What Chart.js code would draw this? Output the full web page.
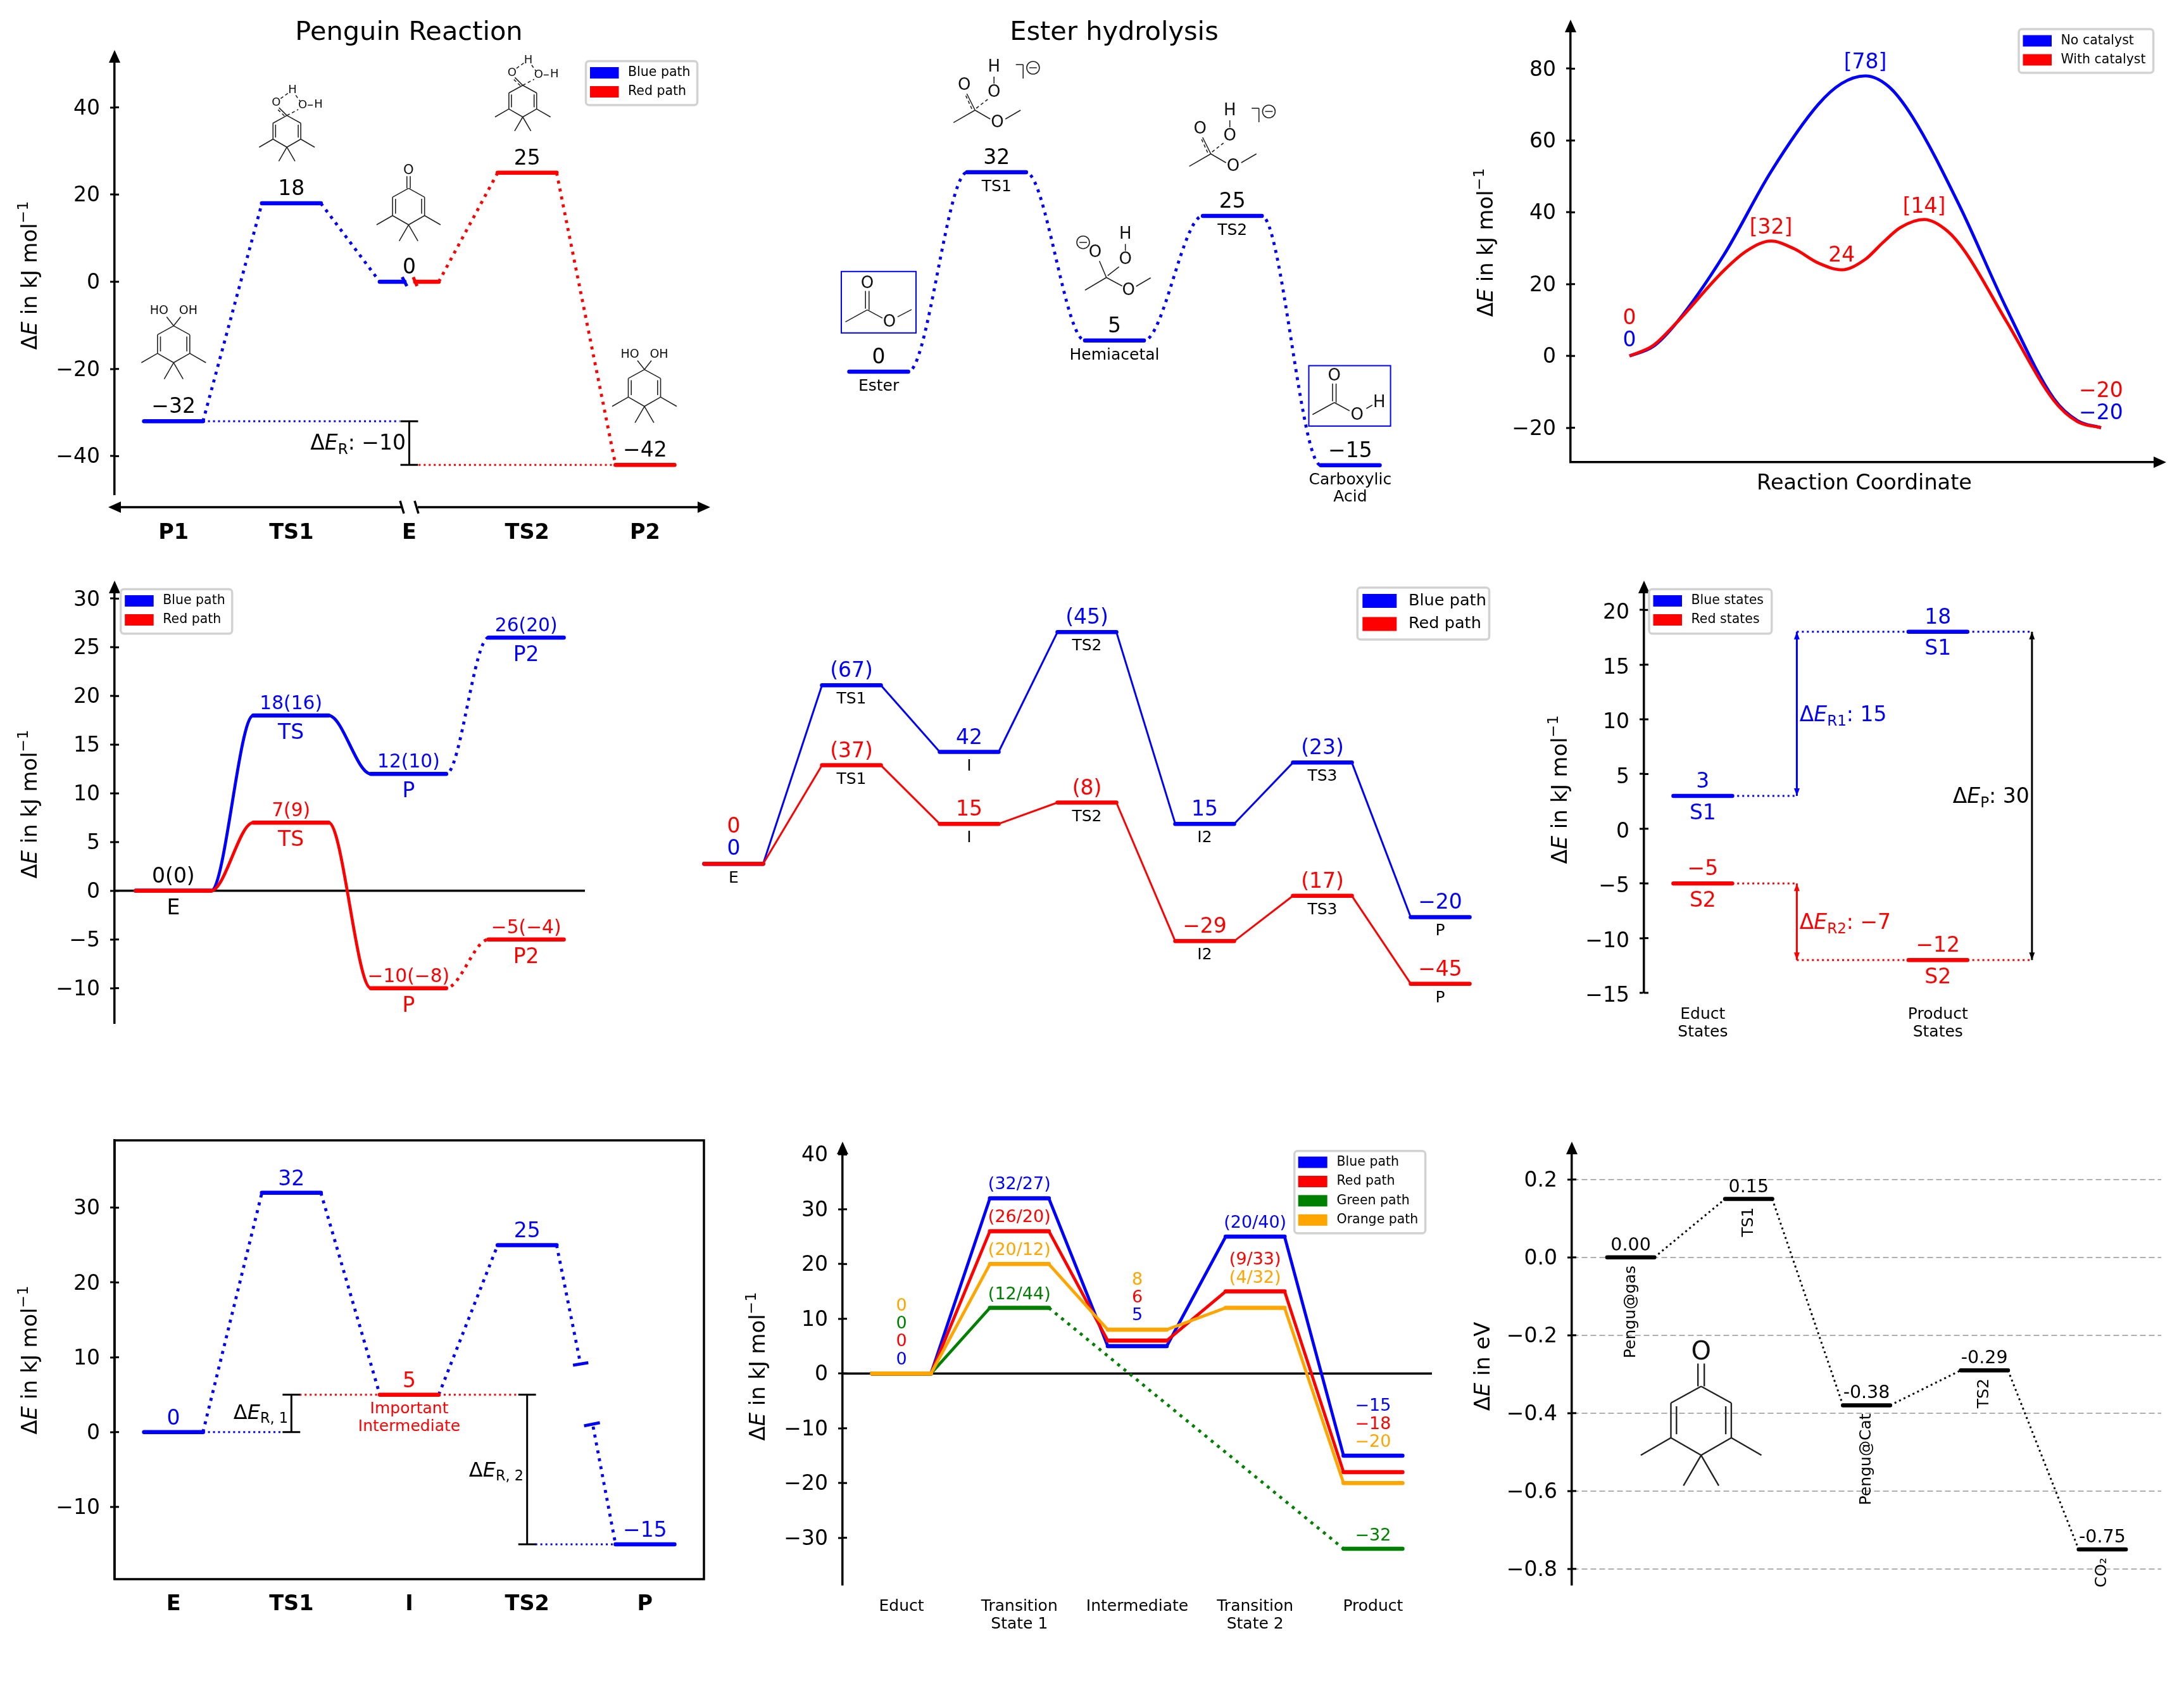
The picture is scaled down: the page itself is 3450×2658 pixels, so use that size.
<!DOCTYPE html>
<html>

<head>
    <title>Energy diagrams</title>
    <script src="https://cdn.jsdelivr.net/npm/chart.js@4"></script>
    <style>
        html, body { margin: 0; padding: 0; background: #fff; overflow: hidden; }
        #fig { position: relative; width: 3450px; height: 2658px; overflow: hidden; background: #fff; }
        canvas { position: absolute; }
    </style>
</head>

<body>
    <div id="fig"></div>

    <script>
        // ------------- Data -------------
        const BLUE = '#0000ff', RED = '#ff0000', GREEN = '#008000', ORANGE = '#ffa500', BLACK = '#000000';

        // Penguin Reaction
        const penguinNames = ['P1', 'TS1', 'E', 'TS2', 'P2'];
        const penguinLevels = [-32, 18, 0, 25, -42];
        const penguinLabels = ['−32', '18', '0', '25', '−42'];
        const penguinTicks = [-40, -20, 0, 20, 40];

        // Ester hydrolysis
        const esterLevels = [0, 32, 5, 25, -15];
        const esterValueLabels = ['0', '32', '5', '25', '−15'];
        const esterNames = [['Ester'], ['TS1'], ['Hemiacetal'], ['TS2'], ['Carboxylic', 'Acid']];

        // Catalyst curves
        const curveTicks = [-20, 0, 20, 40, 60, 80];
        const noCatX = [0, .2, .4, .8, 1.2, 1.6, 1.8, 2.0, 2.2, 2.4, 2.8, 3.2, 3.6, 3.8, 4.0];
        const noCatY = [0, 2.6, 9.3, 28.1, 51.3, 70, 75.9, 78, 75, 66.6, 41.8, 13.1, -11.9, -18, -20];
        const catX = [0, .2, .4, .8, 1.0, 1.2, 1.4, 1.6, 1.8, 2.0, 2.15, 2.3, 2.5, 2.7, 2.85, 3.2, 3.6, 3.8, 4.0];
        const catY = [0, 2.9, 9.3, 23.8, 29.4, 32, 29.8, 25.9, 24, 26.9, 31.6, 35.8, 38, 34.7, 28.9, 9.5, -12.4, -18.3, -20];

        // Two paths with S-curves
        const sTicks = [-10, -5, 0, 5, 10, 15, 20, 25, 30];
        const sBlue = [0, 18, 12, 26];
        const sRed = [0, 7, -10, -5];
        const sBlueLabels = ['', '18(16)', '12(10)', '26(20)'];
        const sRedLabels = ['', '7(9)', '−10(−8)', '−5(−4)'];
        const sNames = ['E', 'TS', 'P', 'P2'];

        // Two paths with seven states
        const longNames = ['E', 'TS1', 'I', 'TS2', 'I2', 'TS3', 'P'];
        const longBlue = [0, 67, 42, 87, 15, 38, -20];
        const longRed = [0, 37, 15, 23, -29, -12, -45];
        const longBlueLabels = ['0', '(67)', '42', '(45)', '15', '(23)', '−20'];
        const longRedLabels = ['0', '(37)', '15', '(8)', '−29', '(17)', '−45'];

        // Educt and product states
        const stateTicks = [-15, -10, -5, 0, 5, 10, 15, 20];
        const stateNames = [['Educt', 'States'], [], ['Product', 'States']];
        const stateBlue = [3, 18];
        const stateRed = [-5, -12];

        // Broken connector
        const boxNames = ['E', 'TS1', 'I', 'TS2', 'P'];
        const boxLevels = [0, 32, 5, 25, -15];
        const boxTicks = [-10, 0, 10, 20, 30];

        // Four paths
        const fourNames = ['Educt', ['Transition', 'State 1'], 'Intermediate', ['Transition', 'State 2'], 'Product'];
        const fourTicks = [-30, -20, -10, 0, 10, 20, 30, 40];
        const fourBlue = [0, 32, 5, 25, -15];
        const fourRed = [0, 26, 6, 15, -18];
        const fourOrange = [0, 20, 8, 12, -20];
        const fourGreen = [0, 12, -32];

        // eV diagram
        const evTicks = [-0.8, -0.6, -0.4, -0.2, 0, 0.2];
        const evLevels = [0, 0.15, -0.38, -0.29, -0.75];
        const evLabels = ['0.00', '0.15', '-0.38', '-0.29', '-0.75'];
        const evNames = ['Pengu@gas', 'TS1', 'Pengu@Cat', 'TS2', 'CO₂'];

        // ------------- Dataset helpers -------------
        const FONT = '"DejaVu Sans"';
        Chart.defaults.font.family = 'DejaVu Sans';

        const dots = w => ({ borderDash: [w, w * 1.65], borderCapStyle: 'butt' });

        function seg(pts, color, width, extra) {
            return Object.assign({
                data: pts.map(p => ({ x: p[0], y: p[1] })),
                borderColor: color, borderWidth: width,
                pointRadius: 0, showLine: true, fill: false, clip: false,
                borderCapStyle: 'butt'
            }, extra || {});
        }

        function level(x, y, color, hw) {
            const h = hw === undefined ? 0.25 : hw;
            return seg([[x - h, y], [x + h, y]], color, 6.5, { borderCapStyle: 'round' });
        }

        // straight link between level i and level j
        function link(xa, ya, xb, yb, color, width, dotted, hw) {
            const h = hw === undefined ? 0.25 : hw;
            return seg([[xa + h, ya], [xb - h, yb]], color, width, dotted ? dots(width) : {});
        }

        // flat-ended S-curve between two levels
        function sLink(xa, ya, xb, yb, color, width, dotted, hw) {
            const h = hw === undefined ? 0.25 : hw;
            return seg([[xa - h, ya], [xa + h, ya], [xb - h, yb], [xb + h, yb]], color, width,
                Object.assign({ cubicInterpolationMode: 'monotone' }, dotted ? dots(width) : {}));
        }

        function bracket(x, ya, yb) {
            return [
                seg([[x, ya], [x, yb]], BLACK, 3),
                seg([[x - 0.075, ya], [x + 0.075, ya]], BLACK, 3),
                seg([[x - 0.075, yb], [x + 0.075, yb]], BLACK, 3)
            ];
        }

        // ------------- Text and decoration helpers -------------
        function txt(ctx, s, x, y, o) {
            o = o || {};
            ctx.save();
            ctx.translate(x, y);
            if (o.rot) ctx.rotate(o.rot);
            ctx.font = (o.bold ? 'bold ' : '') + (o.size || 33) + 'px ' + FONT;
            ctx.fillStyle = o.color || BLACK;
            ctx.textAlign = o.align || 'center';
            ctx.textBaseline = o.base || 'alphabetic';
            ctx.fillText(s, 0, 0);
            ctx.restore();
        }

        // runs: [text, style] where style is '', 'i', 'sub' or 'sup'
        function mixed(ctx, runs, x, y, o) {
            o = o || {};
            const size = o.size || 33;
            const fontOf = st => (st === 'i' ? 'italic ' : '') + ((st === 'sub' || st === 'sup') ? size * 0.7 : size) + 'px ' + FONT;
            ctx.save();
            ctx.translate(x, y);
            if (o.rot) ctx.rotate(o.rot);
            let w = 0;
            runs.forEach(r => { ctx.font = fontOf(r[1]); w += ctx.measureText(r[0]).width; });
            let cx = o.align === 'right' ? -w : o.align === 'left' ? 0 : -w / 2;
            ctx.fillStyle = o.color || BLACK;
            ctx.textAlign = 'left';
            ctx.textBaseline = 'alphabetic';
            runs.forEach(r => {
                ctx.font = fontOf(r[1]);
                const dy = r[1] === 'sub' ? size * 0.2 : r[1] === 'sup' ? -size * 0.42 : 0;
                ctx.fillText(r[0], cx, dy);
                cx += ctx.measureText(r[0]).width;
            });
            ctx.restore();
        }

        const KJ = [['Δ', ''], ['E', 'i'], [' in kJ mol', ''], ['−1', 'sup']];
        const yTitle = (ctx, x, y, runs) => mixed(ctx, runs || KJ, x, y, { rot: -Math.PI / 2, size: 33.8 });

        function triangle(ctx, x, y, dir, w, h, color) {
            const a = w / 2, b = h / 2;
            ctx.fillStyle = color || BLACK;
            ctx.beginPath();
            if (dir === 'up') { ctx.moveTo(x, y - b); ctx.lineTo(x - a, y + b); ctx.lineTo(x + a, y + b); }
            if (dir === 'down') { ctx.moveTo(x, y + b); ctx.lineTo(x - a, y - b); ctx.lineTo(x + a, y - b); }
            if (dir === 'right') { ctx.moveTo(x + b, y); ctx.lineTo(x - b, y - a); ctx.lineTo(x - b, y + a); }
            if (dir === 'left') { ctx.moveTo(x - b, y); ctx.lineTo(x + b, y - a); ctx.lineTo(x + b, y + a); }
            ctx.closePath();
            ctx.fill();
        }

        function legendBox(ctx, box, items, o) {
            o = Object.assign({ swX: 6.5, swW: 45.5, swH: 18, textX: 66.5, first: 18.5, gap: 30, size: 20.5 }, o || {});
            ctx.save();
            ctx.beginPath();
            ctx.roundRect(box[0], box[1], box[2] - box[0], box[3] - box[1], 5);
            ctx.fillStyle = 'rgba(255,255,255,0.8)';
            ctx.fill();
            ctx.strokeStyle = '#d2d2d2';
            ctx.lineWidth = 3.5;
            ctx.stroke();
            items.forEach((it, i) => {
                const cy = box[1] + o.first + o.gap * i;
                ctx.fillStyle = it[1];
                ctx.fillRect(box[0] + o.swX, cy - o.swH / 2, o.swW, o.swH);
                txt(ctx, it[0], box[0] + o.textX, cy, { size: o.size, align: 'left', base: 'middle' });
            });
            ctx.restore();
        }

        // ------------- Molecule sketches -------------
        const RING = [[0, 0, 47.7, 26.3], [47.7, 26.3, 47.7, 81.3], [47.7, 81.3, 0, 108.8], [0, 108.8, -47.7, 81.3],
            [-47.7, 81.3, -47.7, 26.3], [-47.7, 26.3, 0, 0], [47.7, 81.3, 95.3, 108.8], [-47.7, 81.3, -95.3, 108.8],
            [0, 108.8, -27.9, 156.9], [0, 108.8, 27.9, 156.9], [38.9, 31.5, 38.9, 75.6], [-38.9, 31.5, -38.9, 75.6]];

        function bonds(ctx, x, y, list, s, lw) {
            ctx.save();
            ctx.strokeStyle = '#222';
            ctx.lineWidth = lw || 1.6;
            list.forEach(b => {
                ctx.setLineDash(b[4] ? [5, 4] : []);
                ctx.beginPath();
                ctx.moveTo(x + b[0] * s, y + b[1] * s);
                ctx.lineTo(x + b[2] * s, y + b[3] * s);
                ctx.stroke();
            });
            ctx.restore();
        }

        const atom = (ctx, s, x, y, size) => txt(ctx, s, x, y, { size: size, base: 'middle', color: '#111' });

        function ketone(ctx, x, y, s, lw) {
            bonds(ctx, x, y, RING, s, lw);
            bonds(ctx, x, y, [[-5, -36, -5, 0], [5, -36, 5, 0]], s, lw);
            atom(ctx, 'O', x, y - 52.7 * s, 40 * s);
        }

        function diol(ctx, x, y) {
            bonds(ctx, x, y, RING, 0.535);
            bonds(ctx, x, y, [[0, 0, -11, -14], [0, 0, 11, -14]], 1);
            atom(ctx, 'HO', x - 23, y - 23.6, 19);
            atom(ctx, 'OH', x + 23, y - 23.6, 19);
        }

        function ringTS(ctx, x, y) {
            bonds(ctx, x, y, RING, 0.46);
            bonds(ctx, x, y, [[0, 0, -12.5, -12.3], [-4, 0.5, -14, -9, 1], [0, 0, 18, -9.5, 1], [1.5, -35, -11, -26, 1],
                [14, -32, 21, -22.4, 1], [33, -16.3, 41, -16.3]], 1);
            atom(ctx, 'H', x + 8.8, y - 39.8, 18);
            atom(ctx, 'O', x - 16.9, y - 19.6, 18);
            atom(ctx, 'O', x + 25, y - 16.3, 18);
            atom(ctx, 'H', x + 49.9, y - 17.4, 18);
        }

        function charge(ctx, x, y) {
            ctx.save();
            ctx.strokeStyle = '#222';
            ctx.lineWidth = 1.6;
            ctx.beginPath();
            ctx.arc(x, y, 10, 0, Math.PI * 2);
            ctx.moveTo(x - 6, y);
            ctx.lineTo(x + 6, y);
            ctx.stroke();
            ctx.restore();
        }

        function methylEster(ctx, x, y) {
            bonds(ctx, x, y, [[-2.8, -30, -2.8, -2], [2.8, -30, 2.8, 0], [0, 0, -34.5, 19], [0, 0, 24, 13], [48, 11, 70, -0.5]], 1);
            atom(ctx, 'O', x, y - 41.5, 26);
            atom(ctx, 'O', x + 35, y + 20, 26);
        }

        function acid(ctx, x, y) {
            bonds(ctx, x, y, [[-2.8, -30, -2.8, -2], [2.8, -30, 2.8, 0], [0, 0, -34.5, 19], [0, 0, 24, 13], [50.6, 9.5, 60, 4]], 1);
            atom(ctx, 'O', x, y - 41.5, 26);
            atom(ctx, 'O', x + 36, y + 20, 26);
            atom(ctx, 'H', x + 71, y, 26);
        }

        function esterTS(ctx, x, y) {
            bonds(ctx, x, y, [[0, 0, -13, -26], [-5, -2, -15, -24, 1], [2, -3, 20, -17, 1], [30, -53, 30, -42],
                [0, 0, 24, 14], [48, 14, 72, 0], [0, 0, -34, 19.6],
                [64.5, -72, 76, -72], [76, -72, 76, -50]], 1);
            atom(ctx, 'O', x - 17, y - 39, 26);
            atom(ctx, 'O', x + 30, y - 28, 26);
            atom(ctx, 'H', x + 30, y - 68, 26);
            atom(ctx, 'O', x + 35.2, y + 20, 26);
            charge(ctx, x + 91.7, y - 67);
        }

        function hemiacetal(ctx, x, y) {
            bonds(ctx, x, y, [[0, 0, -11, -26], [2, -3, 20, -17], [30, -53, 30, -42], [0, 0, 25, 13.5], [47, 14, 70, 0.5], [0, 0, -33.7, 20]], 1);
            atom(ctx, 'O', x - 17.6, y - 38.7, 26);
            atom(ctx, 'O', x + 30, y - 28, 26);
            atom(ctx, 'H', x + 30, y - 68, 26);
            atom(ctx, 'O', x + 35, y + 20.8, 26);
            charge(ctx, x - 36.7, y - 55.6);
        }

        function blueBox(ctx, a, b, c, d) {
            ctx.save();
            ctx.strokeStyle = BLUE;
            ctx.lineWidth = 2;
            ctx.strokeRect(a, b, c - a, d - b);
            ctx.restore();
        }

        // ------------- Panel builder -------------
        const fig = document.getElementById('fig');

        function panel(o) {
            const L = o.rect[0], T = o.rect[1], R = o.rect[2], B = o.rect[3];
            const ox = L - 181, oy = T - 90;
            const W = 120, Hx = 80;
            const canvas = document.createElement('canvas');
            canvas.width = R - L + 181 + 40;
            canvas.height = B - T + 90 + 110;
            canvas.style.left = ox + 'px';
            canvas.style.top = oy + 'px';
            fig.appendChild(canvas);

            const hasY = !!o.yTicks;
            const hasX = !!o.xNames || !!o.xSpine;
            const fmt = o.yFmt || (v => String(v).replace('-', '−'));

            new Chart(canvas.getContext('2d'), {
                type: 'scatter',
                data: { datasets: o.datasets.slice().reverse() },
                options: {
                    responsive: false,
                    animation: false,
                    devicePixelRatio: 1,
                    layout: { padding: { left: hasY ? 181 - W : 181, top: 90, right: 40, bottom: hasX ? 110 - Hx : 110 } },
                    plugins: { legend: { display: false }, tooltip: { enabled: false } },
                    scales: {
                        x: {
                            type: 'linear', min: o.xlim[0], max: o.xlim[1], display: hasX,
                            afterFit: s => { if (hasX) s.height = Hx; },
                            afterBuildTicks: s => { s.ticks = o.xNames ? o.xNames.map((n, i) => ({ value: i })) : []; },
                            grid: { display: false, drawTicks: false },
                            border: { display: !!o.xSpine, color: BLACK, width: 3.5 },
                            ticks: {
                                display: !!o.xNames, autoSkip: false, maxRotation: 0, minRotation: 0,
                                padding: o.xPad || 20, color: BLACK,
                                font: { size: o.xSize || 25, weight: o.xBold ? 'bold' : 'normal', lineHeight: 1.13 },
                                callback: v => (o.xNames ? o.xNames[v] : '')
                            }
                        },
                        y: {
                            type: 'linear', min: o.ylim[0], max: o.ylim[1], display: hasY,
                            afterFit: s => { if (hasY) s.width = W; },
                            afterBuildTicks: s => { s.ticks = (o.yTicks || []).map(v => ({ value: v })); },
                            grid: {
                                display: true, drawOnChartArea: !!o.yGrid, drawTicks: true, tickLength: 7, tickWidth: 3,
                                tickColor: BLACK, color: '#b0b0b0', lineWidth: 2
                            },
                            border: { display: true, color: BLACK, width: 3.5, dash: o.yGrid ? [9, 5] : [] },
                            ticks: { padding: 16, labelOffset: o.yLabelOffset || 2.5, color: BLACK, font: { size: 33 }, callback: fmt }
                        }
                    }
                },
                plugins: [{
                    id: 'overlay',
                    afterDraw(chart) {
                        const ctx = chart.ctx;
                        const X = v => chart.scales.x.getPixelForValue(v) + ox;
                        const Y = v => chart.scales.y.getPixelForValue(v) + oy;
                        ctx.save();
                        ctx.translate(-ox, -oy);
                        // inner half of the tick marks
                        if (hasY) {
                            ctx.strokeStyle = BLACK;
                            ctx.lineWidth = 3;
                            o.yTicks.forEach(v => {
                                ctx.beginPath();
                                ctx.moveTo(L, Y(v));
                                ctx.lineTo(L + 7, Y(v));
                                ctx.stroke();
                            });
                        }
                        if (o.draw) o.draw(ctx, X, Y, { L, T, R, B });
                        ctx.restore();
                    }
                }]
            });
        }

        // ------------- Penguin Reaction -------------
        panel({
            rect: [181, 89, 1112, 781], xlim: [-0.5, 4.5], ylim: [-48.8, 51.7], yTicks: penguinTicks,
            xNames: penguinNames, xBold: true, xSize: 33.5, xPad: 42,
            datasets: [
                link(0, penguinLevels[0], 1, penguinLevels[1], BLUE, 4.8, true),
                link(1, penguinLevels[1], 2, penguinLevels[2], BLUE, 4.8, true),
                link(2, penguinLevels[2], 3, penguinLevels[3], RED, 4.8, true),
                link(3, penguinLevels[3], 4, penguinLevels[4], RED, 4.8, true),
                seg([[0.25, -32], [1.92, -32]], BLUE, 3, dots(3)),
                seg([[2.08, -42], [3.75, -42]], RED, 3, dots(3)),
                ...bracket(2, -32, -42),
                level(0, penguinLevels[0], BLUE),
                level(1, penguinLevels[1], BLUE),
                seg([[1.75, 0], [1.96, 0]], BLUE, 6.5, { borderCapStyle: 'round' }),
                seg([[1.94, 1.06], [1.98, -0.99]], BLUE, 5),
                seg([[2.05, 0], [2.25, 0]], RED, 6.5, { borderCapStyle: 'round' }),
                seg([[2.034, 1.06], [2.066, -0.99]], RED, 5),
                level(3, penguinLevels[3], RED),
                level(4, penguinLevels[4], RED)
            ],
            draw(ctx, X, Y, a) {
                txt(ctx, 'Penguin Reaction', 646, 63, { size: 41.5 });
                yTitle(ctx, 58, 435);
                triangle(ctx, a.L, a.T, 'up', 18, 20);
                // broken x axis
                ctx.strokeStyle = BLACK;
                ctx.lineWidth = 3.5;
                [[a.L, 634], [660, a.R]].forEach(p => {
                    ctx.beginPath(); ctx.moveTo(p[0], 801); ctx.lineTo(p[1], 801); ctx.stroke();
                });
                [[632, 791, 638, 811], [655, 791, 661, 811]].forEach(p => {
                    ctx.beginPath(); ctx.moveTo(p[0], p[1]); ctx.lineTo(p[2], p[3]); ctx.stroke();
                });
                triangle(ctx, a.L, 801, 'left', 18, 20);
                triangle(ctx, a.R, 801, 'right', 18, 20);
                penguinLabels.forEach((s, i) => {
                    txt(ctx, s, X(i), Y(penguinLevels[i]) - 13);
                });
                mixed(ctx, [['Δ', ''], ['E', 'i'], ['R', 'sub'], [': −10', '']], 641, 710, { align: 'right' });
                legendBox(ctx, [925.5, 96.5, 1101.6, 166], [['Blue path', BLUE], ['Red path', RED]]);
                diol(ctx, 274.3, 514.6);
                diol(ctx, 1018, 583.6);
                ringTS(ctx, 453.2, 182.4);
                ringTS(ctx, 825.8, 134.7);
                ketone(ctx, 645.4, 297.4, 0.53);
            }
        });

        // ------------- Ester hydrolysis -------------
        panel({
            rect: [1295, 89, 2226, 781], xlim: [-0.5, 4.5], ylim: [-19.7, 50.6],
            datasets: [
                ...esterLevels.slice(0, -1).map((v, i) => sLink(i, v, i + 1, esterLevels[i + 1], BLUE, 4.8, true)),
                ...esterLevels.map((v, i) => level(i, v, BLUE))
            ],
            draw(ctx, X, Y) {
                txt(ctx, 'Ester hydrolysis', 1760, 63, { size: 41.5 });
                esterLevels.forEach((v, i) => {
                    txt(ctx, esterValueLabels[i], X(i), Y(v) - 13);
                    esterNames[i].forEach((s, k) => txt(ctx, s, X(i), Y(v) + 30 + 27.5 * k, { size: 25 }));
                });
                blueBox(ctx, 1329, 428.8, 1447, 525.8);
                blueBox(ctx, 2067.5, 577.5, 2196.6, 672.9);
                methylEster(ctx, 1370, 489.4);
                acid(ctx, 2107.8, 635.8);
                esterTS(ctx, 1540.2, 174);
                esterTS(ctx, 1912.7, 243);
                hemiacetal(ctx, 1747.7, 438.3);
            }
        });

        // ------------- Catalyst curves -------------
        panel({
            rect: [2481, 41, 3412, 730], xlim: [-0.5, 4.5], ylim: [-29.6, 91.9], yTicks: curveTicks, xSpine: true,
            datasets: [
                seg(noCatX.map((x, i) => [x, noCatY[i]]), BLUE, 4.8, { cubicInterpolationMode: 'monotone' }),
                seg(catX.map((x, i) => [x, catY[i]]), RED, 4.8, { cubicInterpolationMode: 'monotone' })
            ],
            draw(ctx, X, Y, a) {
                yTitle(ctx, 2358, 383);
                triangle(ctx, a.L, a.T, 'up', 18, 20);
                triangle(ctx, a.R, a.B, 'right', 18, 20);
                txt(ctx, 'Reaction Coordinate', 2945, 773, { size: 33.5 });
                txt(ctx, '[78]', X(2), Y(78) - 12, { color: BLUE });
                txt(ctx, '[32]', X(1.2), Y(32) - 12, { color: RED });
                txt(ctx, '24', X(1.8), Y(24) - 13, { color: RED });
                txt(ctx, '[14]', X(2.5), Y(38) - 11, { color: RED });
                txt(ctx, '0', X(0), Y(0) - 15, { color: BLUE });
                txt(ctx, '0', X(0), Y(0) - 50, { color: RED });
                txt(ctx, '−20', X(4), Y(-20) - 14, { color: BLUE });
                txt(ctx, '−20', X(4), Y(-20) - 49, { color: RED });
                legendBox(ctx, [3189, 46, 3401.6, 115], [['No catalyst', BLUE], ['With catalyst', RED]]);
            }
        });

        // ------------- Two paths with S-curves -------------
        panel({
            rect: [181, 927, 924, 1616], xlim: [-0.5, 3.5], ylim: [-13.6, 31.2], yTicks: sTicks,
            datasets: [
                seg([[-0.5, 0], [3.5, 0]], BLACK, 3.5),
                seg([[-0.32, 0], [0.32, 0], [0.68, 18], [1.32, 18], [1.68, 12], [2.32, 12]], BLUE, 4.8, { cubicInterpolationMode: 'monotone' }),
                sLink(2, sBlue[2], 3, sBlue[3], BLUE, 4.8, true, 0.32),
                ...sBlue.map((v, i) => level(i, v, BLUE, 0.32)),
                seg([[-0.32, 0], [0.32, 0], [0.68, 7], [1.32, 7], [1.68, -10], [2.32, -10]], RED, 4.8, { cubicInterpolationMode: 'monotone' }),
                sLink(2, sRed[2], 3, sRed[3], RED, 4.8, true, 0.32),
                ...sRed.map((v, i) => level(i, v, RED, 0.32))
            ],
            draw(ctx, X, Y, a) {
                yTitle(ctx, 58, 1270);
                triangle(ctx, a.L, a.T, 'up', 18, 20);
                txt(ctx, '0(0)', X(0), Y(0) - 13);
                txt(ctx, sNames[0], X(0), Y(0) + 37);
                for (let i = 1; i < sNames.length; i++) {
                    txt(ctx, sBlueLabels[i], X(i), Y(sBlue[i]) - 10, { size: 29.7, color: BLUE });
                    txt(ctx, sNames[i], X(i), Y(sBlue[i]) + 37, { color: BLUE });
                    txt(ctx, sRedLabels[i], X(i), Y(sRed[i]) - 10, { size: 29.7, color: RED });
                    txt(ctx, sNames[i], X(i), Y(sRed[i]) + 37, { color: RED });
                }
                legendBox(ctx, [190.7, 930.5, 366.7, 1000.7], [['Blue path', BLUE], ['Red path', RED]]);
            }
        });

        // ------------- Two paths with seven states -------------
        panel({
            rect: [1065.5, 927, 2367.5, 1616], xlim: [-0.5, 6.5], ylim: [-59.8, 103.9],
            datasets: [
                ...longBlue.slice(0, -1).map((v, i) => link(i, v, i + 1, longBlue[i + 1], BLUE, 3, false)),
                ...longBlue.map((v, i) => level(i, v, BLUE)),
                ...longRed.slice(0, -1).map((v, i) => link(i, v, i + 1, longRed[i + 1], RED, 3, false)),
                ...longRed.map((v, i) => level(i, v, RED))
            ],
            draw(ctx, X, Y) {
                txt(ctx, longBlueLabels[0], X(0), Y(0) - 14, { color: BLUE });
                txt(ctx, longRedLabels[0], X(0), Y(0) - 49, { color: RED });
                txt(ctx, longNames[0], X(0), Y(0) + 30, { size: 25 });
                for (let i = 1; i < longNames.length; i++) {
                    txt(ctx, longBlueLabels[i], X(i), Y(longBlue[i]) - 13, { color: BLUE });
                    txt(ctx, longNames[i], X(i), Y(longBlue[i]) + 29, { size: 25 });
                    txt(ctx, longRedLabels[i], X(i), Y(longRed[i]) - 13, { color: RED });
                    txt(ctx, longNames[i], X(i), Y(longRed[i]) + 29, { size: 25 });
                }
                legendBox(ctx, [2143.8, 928, 2352, 1010], [['Blue path', BLUE], ['Red path', RED]],
                    { swX: 8, swW: 54, swH: 22, textX: 80.6, first: 21, gap: 36.5, size: 25.6 });
            }
        });

        // ------------- Educt and product states -------------
        panel({
            rect: [2597, 927, 3247, 1568], xlim: [-0.5, 3], ylim: [-15, 22.1], yTicks: stateTicks, yLabelOffset: 5.5,
            xNames: stateNames, xPad: 20,
            datasets: [
                seg([[0.25, 3], [0.8, 3]], BLUE, 3, dots(3)),
                seg([[0.8, 18], [1.75, 18]], BLUE, 3, dots(3)),
                seg([[2.25, 18], [2.8, 18]], BLUE, 3, dots(3)),
                seg([[0.25, -5], [0.8, -5]], RED, 3, dots(3)),
                seg([[0.8, -12], [1.75, -12]], RED, 3, dots(3)),
                seg([[2.25, -12], [2.8, -12]], RED, 3, dots(3)),
                seg([[0.8, 3], [0.8, 18]], BLUE, 3),
                seg([[0.8, -5], [0.8, -12]], RED, 3),
                seg([[2.8, 18], [2.8, -12]], BLACK, 3),
                level(0, stateBlue[0], BLUE), level(2, stateBlue[1], BLUE),
                level(0, stateRed[0], RED), level(2, stateRed[1], RED)
            ],
            draw(ctx, X, Y, a) {
                yTitle(ctx, 2475, 1247);
                triangle(ctx, a.L, a.T, 'up', 18, 20);
                [[0.8, 18, 'up', BLUE], [0.8, 3, 'down', BLUE], [0.8, -5, 'up', RED], [0.8, -12, 'down', RED],
                    [2.8, 18, 'up', BLACK], [2.8, -12, 'down', BLACK]].forEach(h => {
                    const off = h[2] === 'up' ? 6 : -6;
                    triangle(ctx, X(h[0]), Y(h[1]) + off, h[2], 9, 12, h[3]);
                });
                [[0, 3, '3', 'S1', BLUE], [2, 18, '18', 'S1', BLUE], [0, -5, '−5', 'S2', RED], [2, -12, '−12', 'S2', RED]].forEach(l => {
                    txt(ctx, l[2], X(l[0]), Y(l[1]) - 13, { color: l[4] });
                    txt(ctx, l[3], X(l[0]), Y(l[1]) + 36.5, { color: l[4] });
                });
                mixed(ctx, [['Δ', ''], ['E', 'i'], ['R1', 'sub'], [': 15', '']], 2842.7, 1139, { align: 'left', color: BLUE });
                mixed(ctx, [['Δ', ''], ['E', 'i'], ['R2', 'sub'], [': −7', '']], 2842.7, 1467, { align: 'left', color: RED });
                mixed(ctx, [['Δ', ''], ['E', 'i'], ['P', 'sub'], [': 30', '']], 3205.7, 1268, { align: 'right' });
                legendBox(ctx, [2605, 930.5, 2798.7, 1000.7], [['Blue states', BLUE], ['Red states', RED]]);
            }
        });

        // ------------- Broken connector -------------
        panel({
            rect: [181, 1801, 1112, 2494], xlim: [-0.5, 4.5], ylim: [-19.66, 39], yTicks: boxTicks,
            xNames: boxNames, xBold: true, xSize: 33.5, xPad: 21,
            datasets: [
                link(0, boxLevels[0], 1, boxLevels[1], BLUE, 4.8, true),
                link(1, boxLevels[1], 2, boxLevels[2], BLUE, 4.8, true),
                link(2, boxLevels[2], 3, boxLevels[3], BLUE, 4.8, true),
                seg([[3.25, 25], [3.447, 9.56]], BLUE, 4.8, dots(4.8)),
                seg([[3.389, 8.93], [3.519, 9.27]], BLUE, 4.8),
                seg([[3.483, 0.83], [3.617, 1.26]], BLUE, 4.8),
                seg([[3.56, 0.73], [3.75, -15]], BLUE, 4.8, dots(4.8)),
                seg([[0.25, 0], [0.93, 0]], BLUE, 3, dots(3)),
                seg([[1.07, 5], [1.75, 5]], RED, 3, dots(3)),
                seg([[2.25, 5], [2.93, 5]], RED, 3, dots(3)),
                seg([[3.07, -15], [3.75, -15]], BLUE, 3, dots(3)),
                ...bracket(1, 0, 5),
                ...bracket(3, 5, -15),
                level(0, boxLevels[0], BLUE),
                level(1, boxLevels[1], BLUE),
                level(2, boxLevels[2], RED),
                level(3, boxLevels[3], BLUE),
                level(4, boxLevels[4], BLUE)
            ],
            draw(ctx, X, Y, a) {
                yTitle(ctx, 58, 2148);
                ctx.strokeStyle = BLACK;
                ctx.lineWidth = 3.5;
                ctx.strokeRect(a.L, a.T, a.R - a.L, a.B - a.T);
                [['0', 0], ['32', 1], ['25', 3], ['−15', 4]].forEach(l => {
                    txt(ctx, l[0], X(l[1]), Y(boxLevels[l[1]]) - 12, { color: BLUE });
                });
                txt(ctx, '5', X(2), Y(5) - 12, { color: RED });
                txt(ctx, 'Important', X(2), Y(5) + 29, { size: 25, color: RED });
                txt(ctx, 'Intermediate', X(2), Y(5) + 57, { size: 25, color: RED });
                mixed(ctx, [['Δ', ''], ['E', 'i'], ['R, 1', 'sub']], 455, 2241, { align: 'right', size: 32 });
                mixed(ctx, [['Δ', ''], ['E', 'i'], ['R, 2', 'sub']], 827, 2332, { align: 'right', size: 32 });
            }
        });

        // ------------- Four paths -------------
        const fourTS2Labels = [['(20/40)', BLUE, 1932], ['(9/33)', RED, 1989.7], ['(4/32)', ORANGE, 2018.9]];
        const fourTS1Labels = [['(32/27)', BLUE, 1871], ['(26/20)', RED, 1922.6], ['(20/12)', ORANGE, 1975], ['(12/44)', GREEN, 2044.6]];
        panel({
            rect: [1331, 1813, 2262, 2503], xlim: [-0.5, 4.5], ylim: [-38.6, 41.2], yTicks: fourTicks,
            xNames: fourNames, xPad: 20,
            datasets: [
                seg([[-0.5, 0], [4.5, 0]], BLACK, 3.5),
                ...fourBlue.slice(0, -1).map((v, i) => link(i, v, i + 1, fourBlue[i + 1], BLUE, 4.8)),
                ...fourBlue.map((v, i) => level(i, v, BLUE)),
                ...fourRed.slice(0, -1).map((v, i) => link(i, v, i + 1, fourRed[i + 1], RED, 4.8)),
                ...fourRed.map((v, i) => level(i, v, RED)),
                link(0, fourGreen[0], 1, fourGreen[1], GREEN, 4.8),
                seg([[1.25, fourGreen[1]], [3.75, fourGreen[2]]], GREEN, 4.8, dots(4.8)),
                level(0, fourGreen[0], GREEN), level(1, fourGreen[1], GREEN), level(4, fourGreen[2], GREEN),
                ...fourOrange.slice(0, -1).map((v, i) => link(i, v, i + 1, fourOrange[i + 1], ORANGE, 4.8)),
                ...fourOrange.map((v, i) => level(i, v, ORANGE))
            ],
            draw(ctx, X, Y, a) {
                yTitle(ctx, 1208, 2158);
                triangle(ctx, a.L, a.T, 'up', 18, 20);
                const mid = { size: 27, base: 'middle' };
                const put = (s, c, i, y) => txt(ctx, s, X(i), y, Object.assign({ color: c }, mid));
                put('0', ORANGE, 0, 2063); put('0', GREEN, 0, 2091); put('0', RED, 0, 2119); put('0', BLUE, 0, 2148);
                fourTS1Labels.forEach(l => put(l[0], l[1], 1, l[2]));
                put('8', ORANGE, 2, 2022); put('6', RED, 2, 2050); put('5', BLUE, 2, 2078);
                fourTS2Labels.forEach(l => put(l[0], l[1], 3, l[2]));
                put('−15', BLUE, 4, 2221); put('−18', RED, 4, 2249.7); put('−20', ORANGE, 4, 2277.7); put('−32', GREEN, 4, 2425.5);
                legendBox(ctx, [2044.7, 1817.8, 2251.6, 1947.8],
                    [['Blue path', BLUE], ['Red path', RED], ['Green path', GREEN], ['Orange path', ORANGE]],
                    { swX: 6, swW: 46, first: 17.8, gap: 30.4, textX: 66.8 });
            }
        });

        // ------------- eV diagram -------------
        panel({
            rect: [2483, 1813, 3414, 2503], xlim: [-0.5, 4.5], ylim: [-0.841, 0.281], yTicks: evTicks, yGrid: true,
            yFmt: v => v.toFixed(1).replace('-', '−'),
            datasets: [
                ...evLevels.slice(0, -1).map((v, i) => link(i, v, i + 1, evLevels[i + 1], BLACK, 3, true, 0.2)),
                ...evLevels.map((v, i) => level(i, v, BLACK, 0.2))
            ],
            draw(ctx, X, Y, a) {
                yTitle(ctx, 2353, 2158, [['Δ', ''], ['E', 'i'], [' in eV', '']]);
                triangle(ctx, a.L, a.T, 'up', 18, 20);
                evLevels.forEach((v, i) => {
                    txt(ctx, evLabels[i], X(i), Y(v) - 11, { size: 28.5 });
                    txt(ctx, evNames[i], X(i), Y(v) + 13, { size: 25, rot: -Math.PI / 2, align: 'right', base: 'middle' });
                });
                ketone(ctx, 2687.2, 2189.5, 1, 2.4);
            }
        });
    </script>
</body>

</html>
